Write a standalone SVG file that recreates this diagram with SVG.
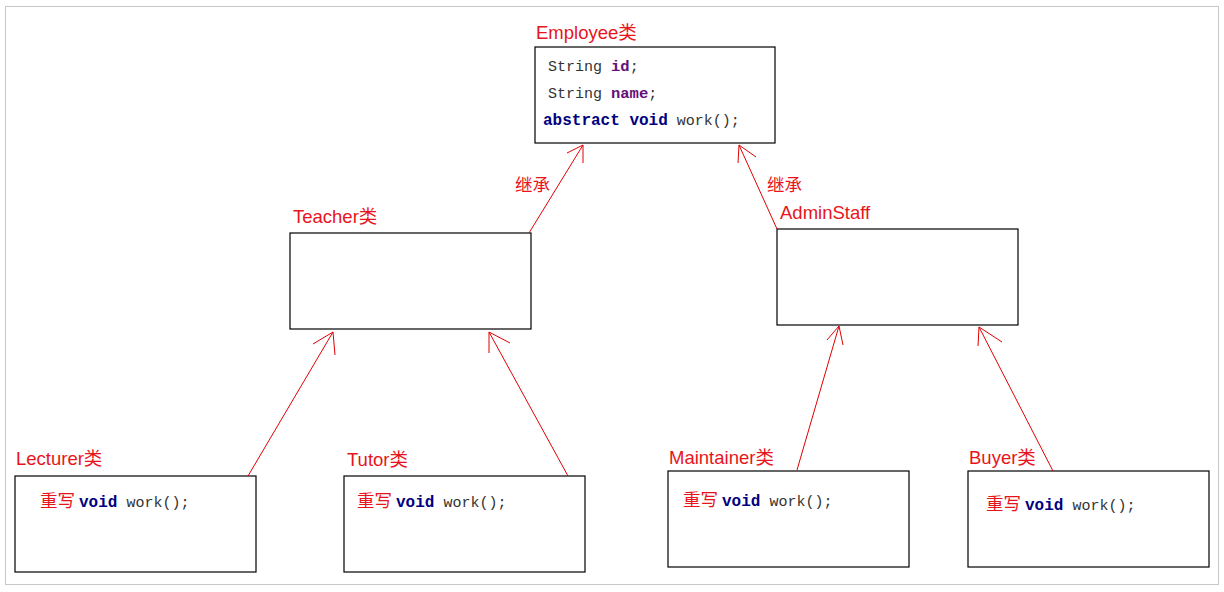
<svg xmlns="http://www.w3.org/2000/svg" width="1224" height="592" viewBox="0 0 1224 592">
<style>
.box{fill:#fff;stroke:#000;stroke-width:1.2}
.lbl{font-family:"Liberation Sans","Noto Sans CJK SC",sans-serif;font-size:18.5px;fill:#e8141b}
.cn{font-family:"Noto Sans CJK SC",sans-serif;font-size:17.5px;fill:#e8141b}
.code{font-family:"Liberation Mono","Noto Sans CJK SC",monospace;font-size:15px;fill:#333}
.kw{font-weight:bold;fill:#000080;font-size:16px}
.fld{font-weight:bold;fill:#660e7a;font-size:15.5px}
.ln{fill:none;stroke:#e00000;stroke-width:1}
</style>
<rect x="5.5" y="6.5" width="1213" height="578" fill="#fff" stroke="#c8c8c8" stroke-width="1"/>
<g id="employee">
<text class="lbl" x="536" y="39">Employee类</text>
<rect class="box" x="535" y="47" width="240" height="96"/>
<text class="code" x="548" y="71">String <tspan class="fld">id</tspan>;</text>
<text class="code" x="548" y="98">String <tspan class="fld">name</tspan>;</text>
<text class="code" x="543" y="125"><tspan class="kw">abstract void</tspan> work();</text>
</g>
<g id="teacher">
<text class="lbl" x="293" y="223">Teacher类</text>
<rect class="box" x="290" y="233" width="241" height="96"/>
</g>
<g id="adminstaff">
<text class="lbl" x="780" y="219">AdminStaff</text>
<rect class="box" x="777" y="229" width="241" height="96"/>
</g>
<g id="lecturer">
<text class="lbl" x="16" y="465">Lecturer类</text>
<rect class="box" x="15" y="476" width="241" height="96"/>
<text x="40" y="507"><tspan class="cn">重写</tspan><tspan class="code kw" dx="4">void</tspan><tspan class="code"> work();</tspan></text>
</g>
<g id="tutor">
<text class="lbl" x="347" y="466">Tutor类</text>
<rect class="box" x="344" y="476" width="241" height="96"/>
<text x="357" y="507"><tspan class="cn">重写</tspan><tspan class="code kw" dx="4">void</tspan><tspan class="code"> work();</tspan></text>
</g>
<g id="maintainer">
<text class="lbl" x="669" y="464">Maintainer类</text>
<rect class="box" x="668" y="471" width="241" height="96"/>
<text x="683" y="506"><tspan class="cn">重写</tspan><tspan class="code kw" dx="4">void</tspan><tspan class="code"> work();</tspan></text>
</g>
<g id="buyer">
<text class="lbl" x="969" y="464">Buyer类</text>
<rect class="box" x="968" y="471" width="241" height="96"/>
<text x="986" y="510"><tspan class="cn">重写</tspan><tspan class="code kw" dx="4">void</tspan><tspan class="code"> work();</tspan></text>
</g>
<g id="connectors">
<path class="ln" d="M529 233 L583 145 M567 153 L583 145 L583 163"/>
<text class="cn" x="515" y="191">继承</text>
<path class="ln" d="M777 229 L739 145 M756 157 L739 145 L738 163"/>
<text class="cn" x="767" y="191">继承</text>
<path class="ln" d="M248 476 L333 332 M313 344 L333 332 L335 355"/>
<path class="ln" d="M568 476 L489 332 M510 343 L489 332 L489 353"/>
<path class="ln" d="M797 470 L839 326 M827 340 L839 326 L843 345"/>
<path class="ln" d="M1053 471 L979 327 M1002 342 L979 327 L978 346"/>
</g>
</svg>
